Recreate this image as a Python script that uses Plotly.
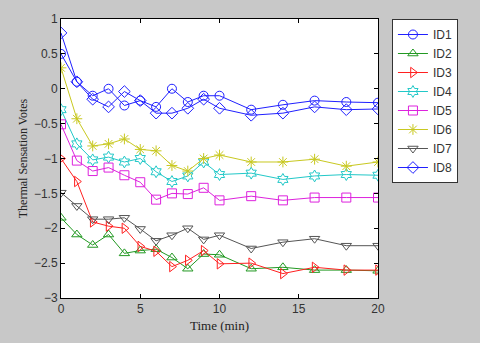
import plotly.graph_objects as go

time_min = [0, 1, 2, 3, 4, 5, 6, 7, 8, 9, 10, 12, 14, 16, 18, 20]

id1 = [0.5, 0.1, -0.1, 0.0, -0.24, -0.17, -0.26, 0.0, -0.19, -0.1, -0.1, -0.3, -0.23, -0.17, -0.19, -0.2]
id2 = [-1.85, -2.09, -2.24, -2.09, -2.36, -2.32, -2.3, -2.42, -2.58, -2.37, -2.38, -2.58, -2.56, -2.6, -2.6, -2.61]
id3 = [-1.0, -1.33, -1.91, -1.97, -2.0, -2.26, -2.33, -2.55, -2.46, -2.32, -2.51, -2.5, -2.65, -2.56, -2.6, -2.6]
id4 = [-0.3, -0.79, -1.02, -0.98, -1.05, -1.0, -1.19, -1.33, -1.25, -1.05, -1.23, -1.21, -1.3, -1.25, -1.23, -1.24]
id5 = [-0.51, -1.03, -1.18, -1.13, -1.24, -1.34, -1.59, -1.5, -1.51, -1.42, -1.6, -1.54, -1.6, -1.56, -1.56, -1.56]
id6 = [0.3, -0.43, -0.82, -0.79, -0.72, -0.87, -0.89, -1.1, -1.18, -1.0, -0.95, -1.05, -1.05, -1.01, -1.11, -1.05]
id7 = [-1.49, -1.68, -1.87, -1.87, -1.85, -2.01, -2.18, -2.1, -2.0, -2.16, -2.1, -2.29, -2.2, -2.15, -2.25, -2.25]
id8 = [0.8, 0.1, -0.15, -0.26, -0.04, -0.17, -0.35, -0.35, -0.28, -0.15, -0.28, -0.38, -0.35, -0.26, -0.3, -0.29]

names = ["ID1", "ID2", "ID3", "ID4", "ID5", "ID6", "ID7", "ID8"]
series = [id1, id2, id3, id4, id5, id6, id7, id8]
colors = ["#2020ff", "#229922", "#ff2020", "#22c8c8", "#dd22dd", "#c8c820", "#555555", "#2020ff"]
symbols = ["circle-open", "triangle-up-open", "triangle-right-open", "hexagram-open",
           "square-open", "asterisk-open", "triangle-down-open", "diamond-open"]

fig = go.Figure()
for name, vals, col, sym in zip(names, series, colors, symbols):
    fig.add_trace(go.Scatter(
        x=time_min, y=vals, name=name, mode="lines+markers",
        line=dict(color=col, width=1),
        marker=dict(symbol=sym, size=9, color=col, line=dict(color=col, width=1)),
    ))

axis_common = dict(
    showline=True, linecolor="black", linewidth=1, mirror="ticks",
    ticks="inside", ticklen=4, tickcolor="black", showgrid=False, zeroline=False,
    tickfont=dict(family="Liberation Sans, Arial", size=12, color="#333333"),
)

fig.update_xaxes(range=[0, 20], dtick=5, tick0=0,
                 title=dict(text="Time (min)", font=dict(family="Liberation Serif, Times New Roman", size=13, color="#222"),
                            standoff=5),
                 **axis_common)
fig.update_yaxes(range=[-3, 1], dtick=0.5, tick0=-3,
                 title=dict(text="Thermal Sensation Votes", font=dict(family="Liberation Serif, Times New Roman", size=12, color="#222"),
                            standoff=3),
                 **axis_common)

fig.update_layout(
    width=480, height=343,
    margin=dict(l=61, r=102, t=15, b=36),
    paper_bgcolor="#c8c8c8", plot_bgcolor="white",
    legend=dict(x=1.044, y=1, xanchor="left", yanchor="top",
                bgcolor="white", bordercolor="#333333", borderwidth=1,
                font=dict(family="Liberation Sans, Arial", size=12, color="#333333"),
                tracegroupgap=0, itemwidth=30),
    showlegend=True,
)

# drop the default page margin so the figure sits at the window origin
fig.write_html("out.html", config={"displayModeBar": False},
               post_script="document.body.style.margin='0';")
